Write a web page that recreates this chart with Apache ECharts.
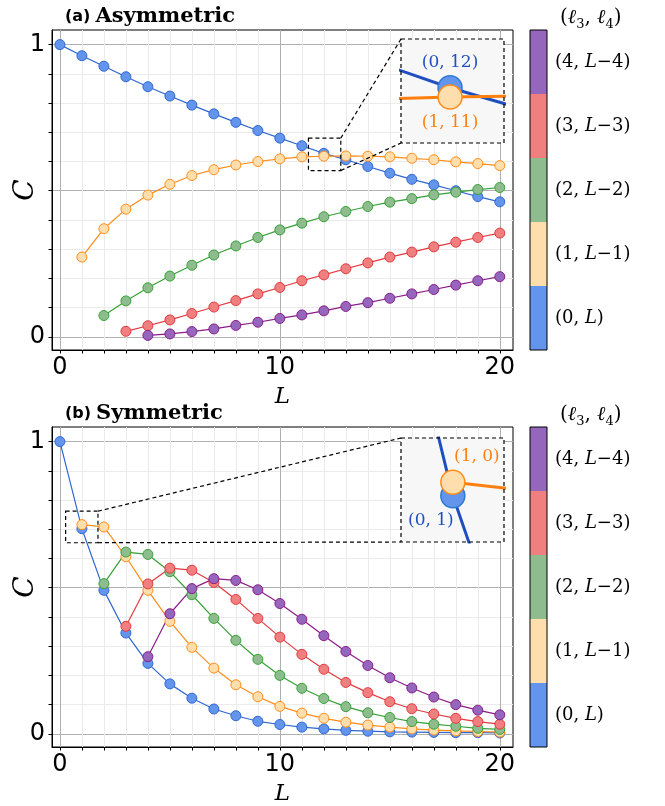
<!DOCTYPE html>
<html>
<head>
<meta charset="utf-8">
<script src="https://cdn.jsdelivr.net/npm/echarts@6/dist/echarts.min.js"></script>
<style>html,body{margin:0;padding:0;background:#fff}</style>
</head>
<body>
<div id="chart" style="width:665px;height:806px"></div>
<script>
// axis ticks and labels
var ticksL = [0,1,2,3,4,5,6,7,8,9,10,11,12,13,14,15,16,17,18,19,20];
var labelsL = [0, 10, 20];
var ticksC = [0, 0.1, 0.2, 0.3, 0.4, 0.5, 0.6, 0.7, 0.8, 0.9, 1];
var labelsC = [0, 1];
var pairNames = ['(0, L)', '(1, L−1)', '(2, L−2)', '(3, L−3)', '(4, L−4)'];
var firstL = [0, 1, 2, 3, 4];

// (a) Asymmetric, one array per (l3, l4) family, starting at L = firstL[k]
var asym0 = [1.000, 0.962, 0.926, 0.890, 0.856, 0.824, 0.793, 0.763, 0.734, 0.706, 0.680, 0.654, 0.628, 0.606, 0.583, 0.560, 0.539, 0.520, 0.500, 0.480, 0.462];
var asym1 = [0.273, 0.370, 0.437, 0.485, 0.522, 0.552, 0.572, 0.588, 0.600, 0.609, 0.616, 0.618, 0.619, 0.618, 0.616, 0.611, 0.606, 0.599, 0.593, 0.586];
var asym2 = [0.073, 0.123, 0.168, 0.208, 0.245, 0.280, 0.311, 0.340, 0.366, 0.389, 0.411, 0.429, 0.446, 0.461, 0.473, 0.486, 0.495, 0.504, 0.511];
var asym3 = [0.019, 0.038, 0.058, 0.080, 0.102, 0.124, 0.147, 0.169, 0.192, 0.212, 0.233, 0.253, 0.273, 0.290, 0.308, 0.324, 0.340, 0.355];
var asym4 = [0.005, 0.010, 0.018, 0.027, 0.039, 0.050, 0.063, 0.075, 0.089, 0.104, 0.117, 0.132, 0.147, 0.162, 0.177, 0.192, 0.206];

// (b) Symmetric
var sym0 = [1.000, 0.702, 0.491, 0.345, 0.241, 0.171, 0.122, 0.085, 0.062, 0.043, 0.032, 0.023, 0.017, 0.012, 0.009, 0.007, 0.006, 0.005, 0.004, 0.004, 0.003];
var sym1 = [0.716, 0.708, 0.606, 0.491, 0.385, 0.296, 0.225, 0.168, 0.127, 0.094, 0.071, 0.053, 0.040, 0.030, 0.023, 0.017, 0.013, 0.010, 0.008, 0.006];
var sym2 = [0.514, 0.622, 0.614, 0.555, 0.476, 0.395, 0.320, 0.255, 0.200, 0.156, 0.121, 0.093, 0.072, 0.056, 0.042, 0.033, 0.026, 0.019, 0.015];
var sym3 = [0.368, 0.513, 0.567, 0.560, 0.518, 0.460, 0.395, 0.331, 0.272, 0.221, 0.176, 0.141, 0.110, 0.086, 0.068, 0.053, 0.042, 0.033];
var sym4 = [0.264, 0.411, 0.497, 0.531, 0.525, 0.493, 0.446, 0.392, 0.336, 0.282, 0.234, 0.192, 0.157, 0.126, 0.100, 0.081, 0.065];

// zoomed regions of the insets (L range, C range)
var zoomA = {x: [11.3, 12.77], y: [0.569, 0.68]};
var zoomB = {x: [0.26, 1.73], y: [0.654, 0.762]};

var fills = ['#6495ED', '#FFDEAD', '#8FBC8F', '#F08080', '#9467BD'];
var edges = ['#2f66d0', '#ff8c1a', '#35a035', '#e03a3e', '#8a1c8a'];
var insetLine = ['#1f4fbf', '#ff7f0e'];

var panels = [
  {top: 30, insetTop: 39, tag: '(a)', name: 'Asymmetric', data: [asym0, asym1, asym2, asym3, asym4], zoom: zoomA,
   marks: [{k: 0, L: 12, text: '(0, 12)', pos: 'top', off: [0, 0]}, {k: 1, L: 12, text: '(1, 11)', pos: 'bottom', off: [0, 0]}]},
  {top: 427, insetTop: 438, tag: '(b)', name: 'Symmetric', data: [sym0, sym1, sym2, sym3, sym4], zoom: zoomB,
   marks: [{k: 1, L: 1, text: '(1, 0)', pos: 'top', off: [24, 0]}, {k: 0, L: 1, text: '(0, 1)', pos: 'bottom', off: [-22, 0]}]}
];

var xGridColors = ['#b0b0b0', '#ebebeb', '#ebebeb', '#ebebeb', '#ebebeb', '#ebebeb', '#ebebeb', '#ebebeb', '#ebebeb', '#ebebeb'];
var yGridColors = ['#b0b0b0', '#ebebeb', '#ebebeb', '#ebebeb', '#ebebeb'];

var grid = [], xAxis = [], yAxis = [], series = [], title = [];

panels.forEach(function (p, pi) {
  var gMain = pi * 3, gIn = pi * 3 + 1, gBar = pi * 3 + 2;
  grid.push({left: 52, top: p.top, width: 461, height: 320, show: true, borderColor: '#000', borderWidth: 1, outerBoundsMode: 'none'});
  grid.push({left: 401, top: p.insetTop, width: 103, height: 104, outerBoundsMode: 'none'});
  grid.push({left: 530, top: p.top, width: 17, height: 320, show: true, borderColor: '#000', borderWidth: 1, z: 3, outerBoundsMode: 'none'});

  xAxis.push({
    gridIndex: gMain, type: 'value', min: -0.36, max: 20.6,
    name: 'L', nameLocation: 'middle', nameGap: 36,
    nameTextStyle: {fontFamily: 'DejaVu Serif', fontStyle: 'italic', fontSize: 23, color: '#000'},
    axisLine: {onZero: false, lineStyle: {color: '#000', width: 1}},
    axisTick: {customValues: ticksL, length: 3.5, lineStyle: {color: '#000'}},
    axisLabel: {customValues: labelsL, fontFamily: 'DejaVu Sans', fontSize: 24, color: '#000', margin: 6},
    splitLine: {show: true, lineStyle: {color: xGridColors, width: 1}}
  });
  yAxis.push({
    gridIndex: gMain, type: 'value', min: -0.045, max: 1.05,
    name: 'C', nameLocation: 'middle', nameGap: 12, nameRotate: 90, nameMoveOverlap: false,
    nameTextStyle: {fontFamily: 'DejaVu Serif', fontStyle: 'italic', fontSize: 28, color: '#000'},
    axisLine: {onZero: false, lineStyle: {color: '#000', width: 1}},
    axisTick: {customValues: ticksC, length: 3.5, lineStyle: {color: '#000'}},
    axisLabel: {customValues: labelsC, fontFamily: 'DejaVu Sans', fontSize: 24, color: '#000', margin: 7},
    splitLine: {show: true, lineStyle: {color: yGridColors, width: 1}}
  });
  xAxis.push({gridIndex: gIn, type: 'value', min: p.zoom.x[0], max: p.zoom.x[1], show: false});
  yAxis.push({gridIndex: gIn, type: 'value', min: p.zoom.y[0], max: p.zoom.y[1], show: false});
  xAxis.push({gridIndex: gBar, type: 'value', min: 0, max: 1, show: false});
  yAxis.push({
    gridIndex: gBar, type: 'category', position: 'right', data: pairNames,
    axisLine: {show: false},
    axisTick: {show: true, alignWithLabel: true, length: 3.5, lineStyle: {color: '#000'}},
    axisLabel: {
      margin: 8, color: '#000', fontFamily: 'DejaVu Serif', fontSize: 18,
      formatter: function (v) { return v.replace('L', '{i|L}'); },
      rich: {i: {fontFamily: 'DejaVu Serif', fontStyle: 'italic', fontSize: 18, color: '#000'}}
    }
  });

  p.data.forEach(function (vals, k) {
    series.push({
      type: 'line', xAxisIndex: gMain, yAxisIndex: gMain,
      data: vals.map(function (v, i) { return [firstL[k] + i, v]; }),
      symbol: 'circle', symbolSize: 10,
      lineStyle: {color: edges[k], width: 1.2},
      itemStyle: {color: fills[k], borderColor: edges[k], borderWidth: 1}
    });
  });

  [0, 1].forEach(function (k) {
    var data = p.data[k].map(function (v, i) {
      var item = {value: [firstL[k] + i, v]};
      p.marks.forEach(function (m) {
        if (m.k === k && m.L === firstL[k] + i) {
          item.label = {show: true, formatter: m.text, position: m.pos, offset: m.off, distance: 4,
            fontFamily: 'DejaVu Serif', fontSize: 17, color: insetLine[k]};
        }
      });
      return item;
    });
    series.push({
      type: 'line', xAxisIndex: gIn, yAxisIndex: gIn, clip: true, z: 10,
      data: data, symbol: 'circle', symbolSize: 24,
      lineStyle: {color: insetLine[k], width: 3},
      itemStyle: {color: fills[k], borderColor: k === 0 ? '#2f7ad0' : edges[k], borderWidth: 1.5}
    });
  });

  series.push({
    type: 'bar', xAxisIndex: gBar, yAxisIndex: gBar, barWidth: '100%', barCategoryGap: '0%',
    data: fills.map(function (c) { return {value: 1, itemStyle: {color: c}}; })
  });

  title.push({
    left: 60, top: p.top - 29,
    text: '{a|' + p.tag + '} {b|' + p.name + '}',
    textStyle: {rich: {
      a: {fontFamily: 'DejaVu Sans', fontWeight: 'bold', fontSize: 16, color: '#000'},
      b: {fontFamily: 'DejaVu Serif', fontWeight: 'bold', fontSize: 21, color: '#000'}
    }}
  });
  title.push({
    left: 555, top: p.top - 30,
    text: '({l|ℓ}{s|3}, {l|ℓ}{s|4})',
    textStyle: {fontFamily: 'DejaVu Serif', fontSize: 20, fontWeight: 'normal', color: '#000', rich: {
      l: {fontFamily: 'DejaVu Serif', fontStyle: 'italic', fontWeight: 'normal', fontSize: 20, color: '#000', lineHeight: 26},
      s: {fontFamily: 'DejaVu Serif', fontWeight: 'normal', fontSize: 13, color: '#000', verticalAlign: 'bottom', lineHeight: 15}
    }}
  });
});

var chart = echarts.init(document.getElementById('chart'));
chart.setOption({animation: false, title: title, grid: grid, xAxis: xAxis, yAxis: yAxis, series: series});

// inset frames and zoom connectors, placed through the axes' own scales
var graphic = [];
panels.forEach(function (p, pi) {
  var z = p.zoom;
  var a0 = chart.convertToPixel({gridIndex: pi * 3}, [z.x[0], z.y[1]]);
  var a1 = chart.convertToPixel({gridIndex: pi * 3}, [z.x[1], z.y[0]]);
  var b0 = chart.convertToPixel({gridIndex: pi * 3 + 1}, [z.x[0], z.y[1]]);
  var b1 = chart.convertToPixel({gridIndex: pi * 3 + 1}, [z.x[1], z.y[0]]);
  var dash = {stroke: '#000', lineWidth: 1.2, lineDash: [4, 3], fill: null};
  graphic.push({type: 'rect', z: 1, shape: {x: b0[0], y: b0[1], width: b1[0] - b0[0], height: b1[1] - b0[1]},
    style: {fill: '#f7f7f7', stroke: null}});
  graphic.push({type: 'rect', z: 20, shape: {x: b0[0], y: b0[1], width: b1[0] - b0[0], height: b1[1] - b0[1]}, style: dash});
  graphic.push({type: 'rect', z: 20, shape: {x: a0[0], y: a0[1], width: a1[0] - a0[0], height: a1[1] - a0[1]}, style: dash});
  graphic.push({type: 'line', z: 20, shape: {x1: a1[0], y1: a0[1], x2: b0[0], y2: b0[1]}, style: dash});
  graphic.push({type: 'line', z: 20, shape: {x1: a1[0], y1: a1[1], x2: b0[0], y2: b1[1]}, style: dash});
});
chart.setOption({graphic: graphic});
</script>
</body>
</html>
